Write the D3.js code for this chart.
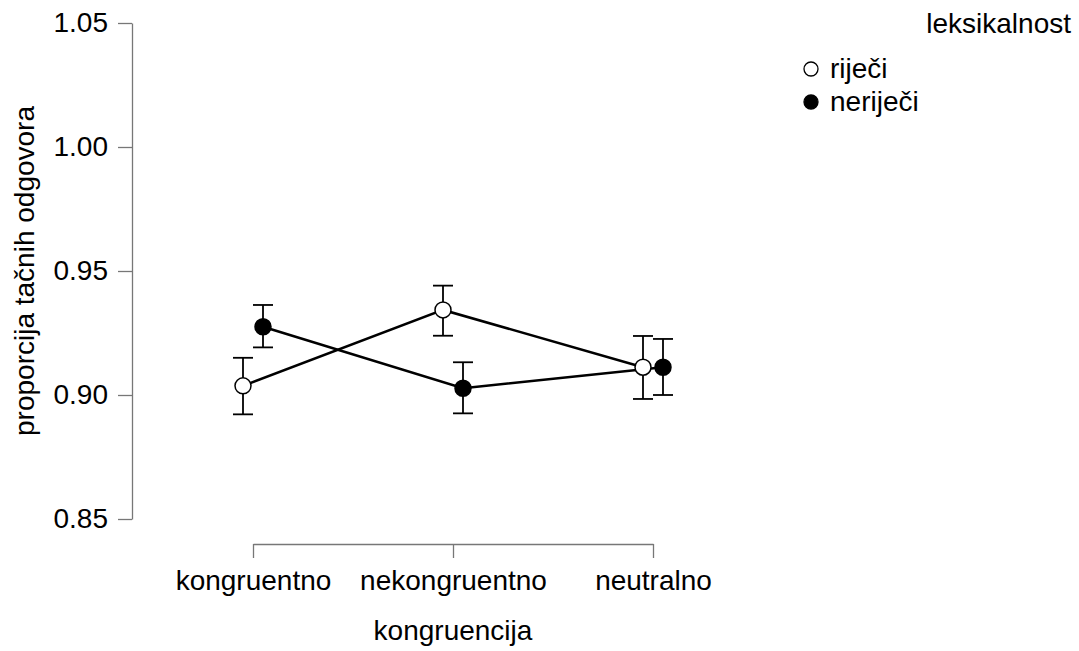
<!doctype html>
<html lang="en">
<head>
  <meta charset="UTF-8">
  <title>Descriptives plot</title>
  <script src="https://cdn.jsdelivr.net/npm/d3@7"></script>
  <style>
    body { margin: 0; background: #fff; }
    text { font-family: "Liberation Sans", Arial, sans-serif; fill: #000; }
  </style>
</head>
<body>
<svg width="1079" height="651" id="chart"></svg>
<script>
  var categories = ['kongruentno', 'nekongruentno', 'neutralno'];
  var yTicks = [0.85, 0.90, 0.95, 1.00, 1.05];
  var seriesNames = ['riječi', 'neriječi'];

  var rijeciMean = [0.9037, 0.9343, 0.9112];
  var rijeciLower = [0.8922, 0.9239, 0.8984];
  var rijeciUpper = [0.9150, 0.9441, 0.9238];

  var nerijeciMean = [0.9275, 0.9027, 0.9112];
  var nerijeciLower = [0.9192, 0.8926, 0.9000];
  var nerijeciUpper = [0.9363, 0.9132, 0.9226];

  (function () {
    var svg = d3.select('#chart'),
      fontSize = 28;

    var x = d3.scalePoint().domain(categories).range([253, 653]),
      y = d3.scaleLinear().domain([0.85, 1.05]).range([519, 23]);

    var series = [
      {name: seriesNames[0], fill: '#fff', dx: -10, mean: rijeciMean, lo: rijeciLower, hi: rijeciUpper},
      {name: seriesNames[1], fill: '#000', dx: 10, mean: nerijeciMean, lo: nerijeciLower, hi: nerijeciUpper}
    ];

    // axes
    var yAxis = svg.append('g')
      .attr('transform', 'translate(132,0)')
      .call(d3.axisLeft(y).tickValues(yTicks).tickFormat(d3.format('.2f'))
        .tickSize(14).tickSizeOuter(0).tickPadding(10));
    yAxis.selectAll('path, line').attr('stroke', '#777').attr('stroke-width', 1.3);
    yAxis.selectAll('text').attr('font-size', fontSize).attr('fill', '#000')
      .style('font-family', '"Liberation Sans", Arial, sans-serif');

    var xAxis = svg.append('g')
      .attr('transform', 'translate(0,544)')
      .call(d3.axisBottom(x).tickSize(14).tickSizeOuter(0).tickPadding(12));
    xAxis.selectAll('path, line').attr('stroke', '#777').attr('stroke-width', 1.3);
    xAxis.selectAll('text').attr('font-size', fontSize).attr('fill', '#000')
      .style('font-family', '"Liberation Sans", Arial, sans-serif');

    svg.append('text')
      .attr('x', 453).attr('y', 640)
      .attr('text-anchor', 'middle')
      .attr('font-size', fontSize)
      .text('kongruencija');

    svg.append('text')
      .attr('transform', 'translate(34,271) rotate(-90)')
      .attr('text-anchor', 'middle')
      .attr('font-size', fontSize)
      .text('proporcija tačnih odgovora');

    // lines
    var line = d3.line();
    series.forEach(function (s) {
      svg.append('path')
        .attr('d', line(categories.map(function (c, i) {
          return [x(c) + s.dx, y(s.mean[i])];
        })))
        .attr('fill', 'none')
        .attr('stroke', '#000')
        .attr('stroke-width', 2.5);
    });

    // error bars
    series.forEach(function (s) {
      var g = svg.append('g').attr('stroke', '#000').attr('stroke-width', 1.8);
      categories.forEach(function (c, i) {
        var cx = x(c) + s.dx;
        g.append('line').attr('x1', cx).attr('x2', cx).attr('y1', y(s.lo[i])).attr('y2', y(s.hi[i]));
        g.append('line').attr('x1', cx - 10).attr('x2', cx + 10).attr('y1', y(s.lo[i])).attr('y2', y(s.lo[i]));
        g.append('line').attr('x1', cx - 10).attr('x2', cx + 10).attr('y1', y(s.hi[i])).attr('y2', y(s.hi[i]));
      });
    });

    // points
    series.forEach(function (s) {
      svg.append('g').selectAll('circle').data(categories).enter().append('circle')
        .attr('cx', function (c) { return x(c) + s.dx; })
        .attr('cy', function (c, i) { return y(s.mean[i]); })
        .attr('r', 8)
        .attr('fill', s.fill)
        .attr('stroke', '#000')
        .attr('stroke-width', 1.5);
    });

    // legend
    svg.append('text')
      .attr('x', 1071).attr('y', 33)
      .attr('text-anchor', 'end')
      .attr('font-size', fontSize)
      .text('leksikalnost');

    series.forEach(function (s, i) {
      var ly = 69 + i * 33;
      svg.append('circle')
        .attr('cx', 811).attr('cy', ly).attr('r', 7)
        .attr('fill', s.fill).attr('stroke', '#000').attr('stroke-width', 1.3);
      svg.append('text')
        .attr('x', 830).attr('y', ly + 9)
        .attr('font-size', fontSize)
        .text(s.name);
    });
  })();
</script>
</body>
</html>
